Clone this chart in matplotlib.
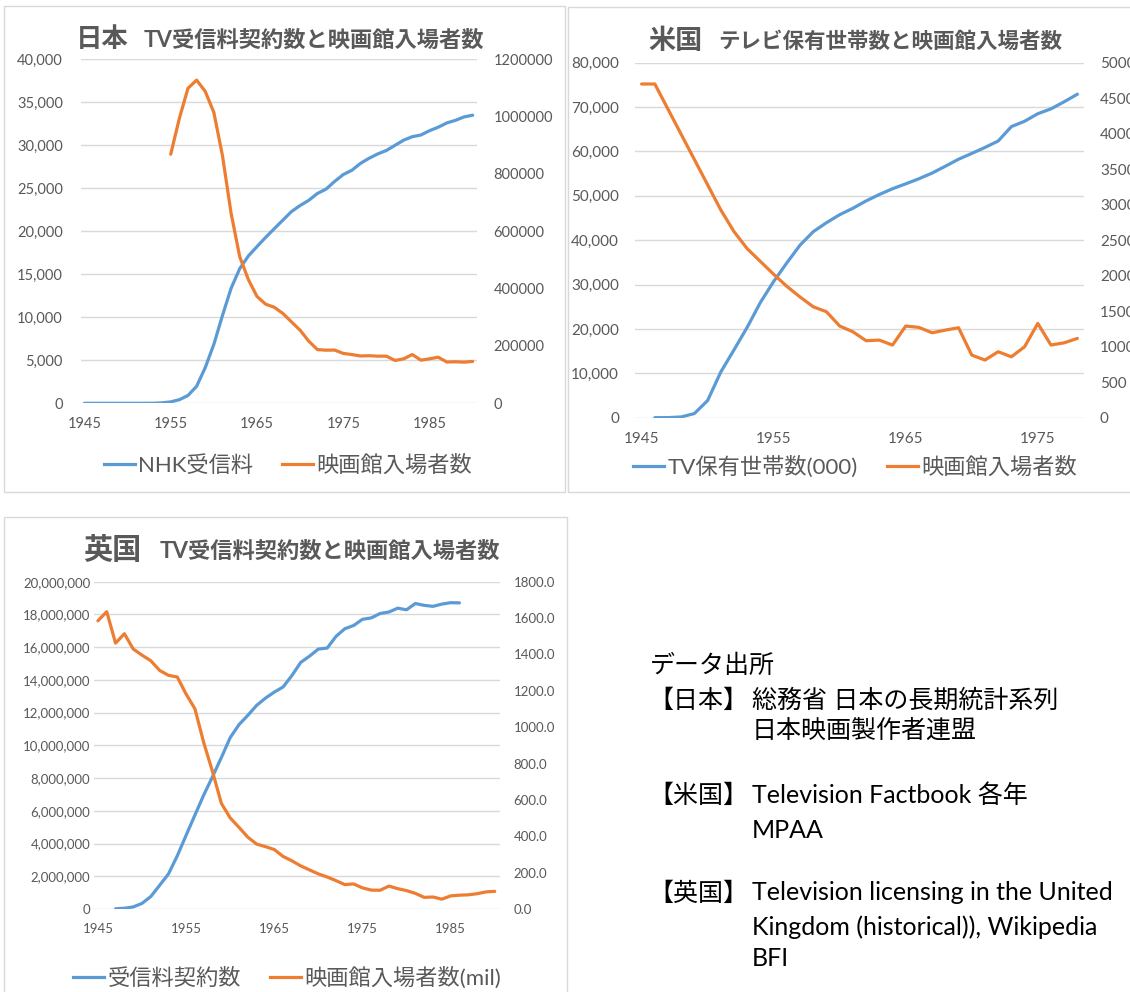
import matplotlib
matplotlib.use('Agg')
import matplotlib.pyplot as plt
from matplotlib.patches import Rectangle
from matplotlib.lines import Line2D
from matplotlib.ticker import FuncFormatter, MultipleLocator

plt.rcParams['font.family'] = ['Lato', 'Noto Sans CJK JP']

W, H = 1130, 992
BLUE = '#5B9BD5'
ORANGE = '#ED7D31'
GREY = '#595959'
GRID = '#D9D9D9'
LW = 2.3

# --- Japan: NHK TV contracts (thousands) and cinema admissions (thousands)
jp_years = list(range(1945, 1991))
jp_nhk = [0, 0, 0, 0, 0, 0, 0, 0,
          2, 53, 166, 420, 908, 1982, 4149, 6860, 10222, 13379,
          15663, 17133, 18224, 19290, 20300, 21300, 22300, 23000, 23600, 24400,
          24900, 25800, 26600, 27100, 27900, 28500, 29000, 29400, 30000, 30600,
          31000, 31200, 31700, 32100, 32600, 32900, 33300, 33500]
jp_cinema_years = list(range(1955, 1991))
jp_cinema = [868912, 993875, 1098882, 1127452, 1088111, 1014364, 863430, 662279, 511121, 431454,
             372676, 345811, 335067, 313398, 283980, 254799, 216754, 187391, 185324, 185738,
             174020, 170019, 165088, 166042, 164376, 164422, 149450, 155130, 170043, 150527,
             155130, 160848, 143935, 144825, 143573, 146000]

# --- US: TV households (000) and cinema admissions
us_years = list(range(1945, 1979))
us_tv_years = list(range(1946, 1979))
us_tv = [8, 14, 172, 940, 3875, 10320, 15300, 20400, 26000, 30700,
         34900, 38900, 41920, 43950, 45750, 47200, 48855, 50300, 51600, 52700,
         53850, 55130, 56670, 58250, 59550, 60900, 62350, 65600, 66800, 68500,
         69600, 71200, 72900]
us_cinema = [4700, 4700, 4345, 3990, 3635, 3280, 2925, 2620, 2380, 2200,
             2020, 1850, 1700, 1562, 1492, 1291, 1210, 1084, 1093, 1023,
             1291, 1272, 1196, 1234, 1267, 882, 812, 929, 858, 999,
             1328, 1023, 1055, 1117]

# --- UK: TV licences and cinema admissions (mil)
uk_tv_years = list(range(1947, 1987))
uk_tv = [14560, 45564, 126567, 343882, 763941, 1449260, 2142452, 3248892, 4503766, 5739593,
         6966256, 8090003, 9255422, 10469753, 11267259, 11833712, 12442806, 12885331, 13253045, 13567090,
         14267271, 15068079, 15452177, 15882968, 15943190, 16658360, 17124619, 17324570, 17700815, 17788557,
         18056058, 18148016, 18381161, 18284865, 18667362, 18554778, 18494184, 18631688, 18716955, 18705669]
uk_cinema_years = list(range(1945, 1991))
uk_cinema = [1585, 1635, 1462, 1514, 1430, 1396, 1365, 1312, 1285, 1276,
             1182, 1101, 915, 755, 581, 501, 449, 395, 357, 343,
             327, 289, 265, 237, 215, 193, 176, 156, 134, 138,
             116, 104, 103, 126, 112, 101, 86, 64, 66, 54,
             72, 76, 78, 84, 94, 97]

fig = plt.figure(figsize=(W / 100, H / 100), dpi=100)


def px_axes(x0, y0, x1, y1):
    return fig.add_axes([x0 / W, 1 - y1 / H, (x1 - x0) / W, (y1 - y0) / H])


def comma(v, pos):
    return f'{v:,.0f}'


def plain(v, pos):
    return f'{v:.0f}'


def one_dec(v, pos):
    return f'{v:.1f}'


def chart(box, bx, by, ox, oy, xlim, xticks, lim1, step1, fmt1, lim2, step2, fmt2,
          ysize, xsize, pad_l, pad_r, pad_x):
    ax = px_axes(*box)
    ax2 = ax.twinx()
    ax.plot(bx, by, color=BLUE, lw=LW, solid_capstyle='round', solid_joinstyle='round')
    ax2.plot(ox, oy, color=ORANGE, lw=LW, solid_capstyle='round', solid_joinstyle='round')
    ax.set_xlim(*xlim)
    ax.set_xticks(xticks)
    ax.set_ylim(*lim1)
    ax.yaxis.set_major_locator(MultipleLocator(step1))
    ax.yaxis.set_major_formatter(FuncFormatter(fmt1))
    ax2.set_ylim(*lim2)
    ax2.yaxis.set_major_locator(MultipleLocator(step2))
    ax2.yaxis.set_major_formatter(FuncFormatter(fmt2))
    for a in (ax, ax2):
        for s in a.spines.values():
            s.set_visible(False)
    ax.grid(axis='y', color=GRID, lw=1)
    ax.set_axisbelow(True)
    ax.tick_params(axis='y', length=0, labelsize=ysize, labelcolor=GREY, pad=pad_l)
    ax.tick_params(axis='x', length=0, labelsize=xsize, labelcolor=GREY, pad=pad_x)
    ax2.tick_params(axis='y', length=0, labelsize=ysize, labelcolor=GREY, pad=pad_r)
    return ax, ax2


def legend(labels, cx, cy):
    handles = [Line2D([], [], color=BLUE, lw=LW), Line2D([], [], color=ORANGE, lw=LW)]
    fig.legend(handles, labels, loc='center', bbox_to_anchor=(cx / W, 1 - cy / H),
               ncol=2, frameon=False, fontsize=16, handlelength=1.4, handletextpad=0.15,
               columnspacing=1.3, labelcolor=GREY, borderpad=0, borderaxespad=0)


def title(big, small, x_big, x_small, y, size_big, size_small):
    fig.text(x_big / W, 1 - y / H, big, fontsize=size_big, fontweight='bold',
             color=GREY, ha='left', va='center')
    fig.text(x_small / W, 1 - (y + 1) / H, small, fontsize=size_small, fontweight='bold',
             color=GREY, ha='left', va='center')


def panel(x0, y0, x1, y1):
    fig.add_artist(Rectangle((x0 / W, 1 - y1 / H), (x1 - x0) / W, (y1 - y0) / H,
                             transform=fig.transFigure, fill=False, edgecolor=GRID, lw=1))


panel(4, 6, 565, 492)
panel(568, 7, 1140, 492)
panel(4, 517, 567, 1000)

# Japan
chart((81, 59.3, 477, 403.3), jp_years, jp_nhk, jp_cinema_years, jp_cinema,
      (1944.6, 1990.5), [1945, 1955, 1965, 1975, 1985],
      (0, 40000), 5000, comma, (0, 1200000), 200000, plain,
      10.5, 10.5, 13, 12, 10)
title('日本', 'TV受信料契約数と映画館入場者数', 76, 144, 39, 19, 16)
legend(['NHK受信料', '映画館入場者数'], 288, 465)

# US
chart((635, 62.7, 1084, 417.7), us_tv_years, us_tv, us_years, us_cinema,
      (1944.5, 1978.5), [1945, 1955, 1965, 1975],
      (0, 80000), 10000, comma, (0, 5000), 500, plain,
      11, 11, 11.5, 11.5, 10.5)
title('米国', 'テレビ保有世帯数と映画館入場者数', 648, 718, 40, 19.5, 15.5)
legend(['TV保有世帯数(000)', '映画館入場者数'], 855, 467)

# UK
chart((94.4, 581.7, 500, 909), uk_tv_years, uk_tv, uk_cinema_years, uk_cinema,
      (1944.6, 1990.6), [1945, 1955, 1965, 1975, 1985],
      (0, 20000000), 2000000, comma, (0, 1800), 200, one_dec,
      9.5, 9.5, 3, 9.7, 10)
title('英国', 'TV受信料契約数と映画館入場者数', 83, 160, 550, 21, 16)
legend(['受信料契約数', '映画館入場者数(mil)'], 287, 978)

# data sources
src = [
    ('データ出所', 650, 665),
    ('【日本】', 648, 700),
    ('総務省 日本の長期統計系列', 752, 700),
    ('日本映画製作者連盟', 752, 730),
    ('【米国】', 648, 795),
    ('Television Factbook 各年', 752, 795),
    ('MPAA', 752, 830),
    ('【英国】', 648, 893),
    ('Television licensing in the United', 752, 893),
    ('Kingdom (historical)), Wikipedia', 752, 927),
    ('BFI', 752, 958),
]
for txt, x, y in src:
    fig.text(x / W, 1 - y / H, txt, fontsize=18, color='black', ha='left', va='center')

fig.savefig('out.png', dpi=100)
